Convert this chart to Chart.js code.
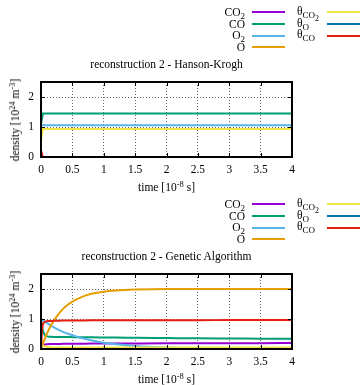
<!DOCTYPE html>
<html>
<head>
<meta charset="utf-8">
<script src="https://cdn.jsdelivr.net/npm/chart.js@4.4.1/dist/chart.umd.min.js"></script>
<style>
  body { margin: 0; background: #fff; }
  #page { position: relative; width: 360px; height: 385px; overflow: hidden; font-family: 'Liberation Serif', serif; color: #000; }
  .panel { position: absolute; left: 0; width: 360px; height: 192px; }
  .panel canvas { position: absolute; left: 0; top: 0; }
  .txt { position: absolute; font-size: 11.5px; line-height: 12px; white-space: nowrap; }
  .key { position: absolute; height: 2px; }
  sub { font-size: 9px; vertical-align: -3px; line-height: 0; }
  sub sub { font-size: 8px; vertical-align: -3px; }
  sup { font-size: 8.5px; vertical-align: 4px; line-height: 0; }
</style>
</head>
<body>
<div id="page"></div>
<script>
'use strict';

// series names, as in the gnuplot key (html for the subscripts)
var seriesNames = ['CO<sub>2</sub>', 'CO', 'O<sub>2</sub>', 'O', '&theta;<sub>CO<sub>2</sub></sub>', '&theta;<sub>O</sub>', '&theta;<sub>CO</sub>'];
var seriesColors = ['#9400d3', '#009e73', '#56b4e9', '#e69f00', '#f0e442', '#0072b2', '#e51e10'];

var xTickVals = [0, 0.5, 1, 1.5, 2, 2.5, 3, 3.5, 4];
var yTickVals = [0, 1, 2];

// reconstruction 2 - Hanson-Krogh
var hkTime   = [0, 0.03, 4];
var hkCO2    = [0, 0, 0];
var hkCO     = [1.09, 1.45, 1.45];
var hkO2     = [1.06, 1.06, 1.06];
var hkO      = [0, 0, 0];
var hkThCO2  = [0.55, 0.93, 0.93];
var hkThO    = [0, 0, 0];
var hkThCO   = [0.22, 0, 0];

// reconstruction 2 - Genetic Algorithm
var gaTime   = [0, 0.02, 0.05, 0.1, 0.15, 0.2, 0.3, 0.4, 0.5, 0.6, 0.8, 1.0, 1.2, 1.5, 2.0, 2.5, 3.0, 3.5, 4.0];
var gaCO2    = [0, 0.08, 0.14, 0.16, 0.165, 0.17, 0.17, 0.175, 0.175, 0.175, 0.18, 0.18, 0.18, 0.185, 0.19, 0.19, 0.195, 0.195, 0.2];
var gaCO     = [1.0, 0.72, 0.5, 0.42, 0.41, 0.4, 0.4, 0.4, 0.395, 0.39, 0.39, 0.385, 0.38, 0.375, 0.365, 0.355, 0.35, 0.345, 0.34];
var gaO2     = [1.0, 0.97, 0.93, 0.86, 0.79, 0.73, 0.62, 0.53, 0.46, 0.39, 0.29, 0.21, 0.16, 0.1, 0.05, 0.03, 0.02, 0.01, 0.01];
var gaO      = [0, 0.12, 0.29, 0.54, 0.75, 0.93, 1.22, 1.43, 1.58, 1.69, 1.84, 1.91, 1.95, 1.98, 2.0, 2.0, 2.0, 2.0, 2.0];
var gaThCO2  = [0, 0.12, 0.09, 0.07, 0.06, 0.05, 0.05, 0.05, 0.05, 0.05, 0.05, 0.05, 0.05, 0.05, 0.05, 0.05, 0.05, 0.05, 0.05];
var gaThO    = [0, 0, 0, 0, 0, 0, 0, 0, 0, 0, 0, 0, 0, 0, 0, 0, 0, 0, 0];
var gaThCO   = [0, 0.7, 0.89, 0.93, 0.935, 0.94, 0.945, 0.95, 0.95, 0.95, 0.955, 0.955, 0.955, 0.96, 0.96, 0.96, 0.965, 0.965, 0.965];

var FONT = "'Liberation Serif', serif";

// gnuplot style border with inward ticks, drawn over the curves
var framePlugin = {
    id: 'frame',
    afterDatasetsDraw: function (chart) {
        var ctx = chart.ctx, a = chart.chartArea, sx = chart.scales.x, sy = chart.scales.y;
        ctx.save();
        ctx.strokeStyle = '#000';
        ctx.lineWidth = 1;
        ctx.beginPath();
        sx.ticks.forEach(function (t) {
            var px = Math.round(sx.getPixelForValue(t.value)) + 0.5;
            ctx.moveTo(px, a.bottom); ctx.lineTo(px, a.bottom - 4);
            ctx.moveTo(px, a.top); ctx.lineTo(px, a.top + 4);
        });
        sy.ticks.forEach(function (t) {
            var py = Math.round(sy.getPixelForValue(t.value)) + 0.5;
            ctx.moveTo(a.left, py); ctx.lineTo(a.left + 4, py);
            ctx.moveTo(a.right, py); ctx.lineTo(a.right - 4, py);
        });
        ctx.stroke();
        ctx.lineWidth = 2;
        ctx.strokeRect(a.left, a.top, a.right - a.left, a.bottom - a.top);
        ctx.restore();
    }
};

function addText(parent, html, css) {
    var d = document.createElement('div');
    d.className = 'txt';
    d.innerHTML = html;
    Object.keys(css).forEach(function (k) { d.style[k] = css[k]; });
    parent.appendChild(d);
    return d;
}

function addKey(parent, color, x0, x1, y) {
    var d = document.createElement('div');
    d.className = 'key';
    d.style.left = x0 + 'px';
    d.style.width = (x1 - x0) + 'px';
    d.style.top = (y - 1) + 'px';
    d.style.background = color;
    parent.appendChild(d);
}

function makePanel(top, title, time, series, smooth) {
    var panel = document.createElement('div');
    panel.className = 'panel';
    panel.style.top = top + 'px';
    document.getElementById('page').appendChild(panel);

    var canvas = document.createElement('canvas');
    canvas.width = 360;
    canvas.height = 192;
    panel.appendChild(canvas);

    // key: 4 rows left, 3 rows right
    var rows = [12.3, 24, 35.7, 47.3];
    seriesNames.forEach(function (name, i) {
        var y = rows[i < 4 ? i : i - 4];
        if (i < 4) {
            addText(panel, name, { right: '115px', top: (y - 6.5) + 'px', textAlign: 'right' });
            addKey(panel, seriesColors[i], 252, 285, y);
        } else {
            addText(panel, name, { left: '297px', top: (y - 7.5) + 'px' });
            addKey(panel, seriesColors[i], 327, 360, y);
        }
    });

    addText(panel, title, { left: '0px', width: '333px', top: '58px', textAlign: 'center' });
    addText(panel, 'time [10<sup>-8</sup> s]', { left: '0px', width: '333px', top: '181px', textAlign: 'center' });
    addText(panel, 'density [10<sup>24</sup> m<sup>-3</sup>]', {
        left: '15px', top: '119.5px', transform: 'translate(-50%, -50%) rotate(-90deg)'
    });

    var datasets = series.map(function (vals, i) {
        return {
            data: time.map(function (t, j) { return { x: t, y: vals[j] }; }),
            borderColor: seriesColors[i],
            borderWidth: 2,
            pointRadius: 0,
            fill: false,
            cubicInterpolationMode: smooth ? 'monotone' : 'default',
            tension: 0,
            order: series.length - i
        };
    });

    var tickFont = { family: FONT, size: 11.5 };

    return new Chart(canvas, {
        type: 'line',
        data: { datasets: datasets },
        plugins: [framePlugin],
        options: {
            responsive: false,
            animation: false,
            events: [],
            layout: { autoPadding: false, padding: { top: 82, right: 68, left: 0, bottom: 0 } },
            plugins: { legend: { display: false }, title: { display: false }, tooltip: { enabled: false } },
            scales: {
                x: {
                    type: 'linear',
                    min: 0,
                    max: 4,
                    afterBuildTicks: function (scale) { scale.ticks = xTickVals.map(function (v) { return { value: v }; }); },
                    afterFit: function (scale) { scale.height = 35; },
                    ticks: { color: '#000', font: tickFont, padding: 6, maxRotation: 0, autoSkip: false,
                             callback: function (v) { return String(v); } },
                    grid: { color: 'rgba(0,0,0,0.6)', lineWidth: 1, drawTicks: false },
                    border: { display: false, dash: [1, 2] }
                },
                y: {
                    type: 'linear',
                    min: 0,
                    max: 2.5,
                    afterBuildTicks: function (scale) { scale.ticks = yTickVals.map(function (v) { return { value: v }; }); },
                    afterFit: function (scale) { scale.width = 41; },
                    ticks: { color: '#000', font: tickFont, padding: 7,
                             callback: function (v) { return String(v); } },
                    grid: { color: 'rgba(0,0,0,0.6)', lineWidth: 1, drawTicks: false },
                    border: { display: false, dash: [1, 2] }
                }
            }
        }
    });
}

makePanel(0, 'reconstruction 2 - Hanson-Krogh', hkTime,
    [hkCO2, hkCO, hkO2, hkO, hkThCO2, hkThO, hkThCO], false);
makePanel(192, 'reconstruction 2 - Genetic Algorithm', gaTime,
    [gaCO2, gaCO, gaO2, gaO, gaThCO2, gaThO, gaThCO], true);
</script>
</body>
</html>
